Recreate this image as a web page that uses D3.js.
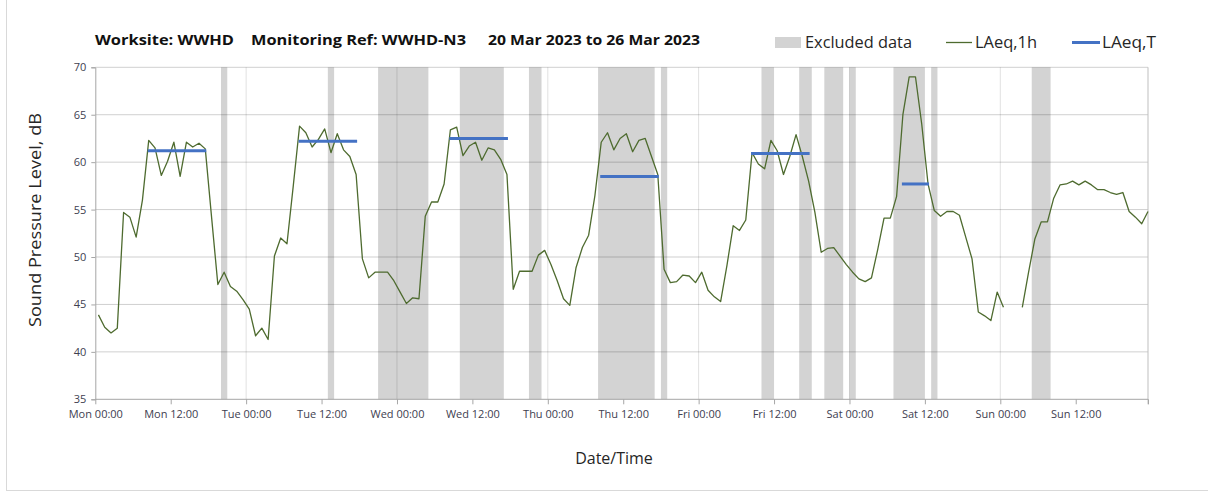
<!DOCTYPE html>
<html>
<head>
<meta charset="utf-8">
<script src="https://cdn.jsdelivr.net/npm/d3@7"></script>
<style>
  html, body { margin: 0; padding: 0; background: #fff; }
  svg { display: block; }
</style>
</head>
<body>
<div id="chart"></div>
<script>
// ---------- DATA ----------
// Hourly LAeq,1h values, Mon 20 Mar 00:00 .. Sun 26 Mar 23:00 (null = no data)
const levels = [
  43.9, 42.6, 42.0, 42.5, 54.7, 54.2, 52.1, 56.0, 62.3, 61.5, 58.6, 60.1,
  62.1, 58.5, 62.1, 61.6, 62.0, 61.4, 54.2, 47.1, 48.4, 46.9, 46.4, 45.5,
  44.5, 41.7, 42.5, 41.3, 50.1, 52.0, 51.4, 57.5, 63.8, 63.1, 61.6, 62.4,
  63.5, 61.0, 63.0, 61.3, 60.6, 58.7, 49.8, 47.8, 48.4, 48.4, 48.4, 47.5,
  46.3, 45.1, 45.7, 45.6, 54.3, 55.8, 55.8, 57.7, 63.4, 63.7, 60.7, 61.7,
  62.1, 60.2, 61.5, 61.3, 60.3, 58.7, 46.6, 48.5, 48.5, 48.5, 50.2, 50.7,
  49.2, 47.5, 45.6, 44.9, 48.9, 51.0, 52.3, 56.5, 62.1, 63.1, 61.3, 62.5,
  63.0, 61.1, 62.3, 62.5, 60.6, 58.7, 48.7, 47.3, 47.4, 48.1, 48.0, 47.3,
  48.4, 46.5, 45.8, 45.3, 49.1, 53.3, 52.8, 53.9, 61.0, 59.8, 59.3, 62.3,
  61.2, 58.7, 60.6, 62.9, 60.6, 58.0, 54.7, 50.5, 50.9, 51.0, 50.1, 49.2,
  48.4, 47.7, 47.4, 47.8, 50.8, 54.1, 54.1, 56.4, 65.0, 69.0, 69.0, 64.0,
  57.7, 54.9, 54.3, 54.8, 54.8, 54.4, 52.1, 49.8, 44.2, 43.8, 43.3, 46.3,
  44.7, null, null, 44.7, 48.4, 51.9, 53.7, 53.7, 56.2, 57.6, 57.7, 58.0,
  57.6, 58.0, 57.6, 57.1, 57.1, 56.8, 56.6, 56.8, 54.8, 54.2, 53.5, 54.8
];

// LAeq,T periods (hour index of first and last hourly value) and level
const periodStart = [8, 32, 56, 80, 104, 128];
const periodEnd   = [17, 41, 65, 89, 113, 132];
const periodLevel = [61.2, 62.2, 62.5, 58.5, 60.9, 57.7];

// Excluded data periods, hours from Mon 00:00 [start, end)
const excludedStart = [20, 37, 45, 58, 69, 80, 90, 106, 112, 116, 120, 127, 133, 149];
const excludedEnd   = [21, 38, 53, 65, 71, 89, 91, 108, 114, 119, 121, 132, 134, 152];

// Axis ticks
const xTickHours  = [0, 12, 24, 36, 48, 60, 72, 84, 96, 108, 120, 132, 144, 156];
const xTickLabels = ["Mon 00:00", "Mon 12:00", "Tue 00:00", "Tue 12:00", "Wed 00:00", "Wed 12:00",
                     "Thu 00:00", "Thu 12:00", "Fri 00:00", "Fri 12:00", "Sat 00:00", "Sat 12:00",
                     "Sun 00:00", "Sun 12:00"];
const yTicks = [35, 40, 45, 50, 55, 60, 65, 70];

const titleParts = ["Worksite: WWHD", "Monitoring Ref: WWHD-N3", "20 Mar 2023 to 26 Mar 2023"];
const legendLabels = ["Excluded data", "LAeq,1h", "LAeq,T"];

// ---------- LAYOUT ----------
const W = 1208, H = 493;
const L = 95.3, R = 1148, T = 67.3, B = 399.3;
const FONT = "'Open Sans', 'Noto Sans', sans-serif";

const svg = d3.select("#chart").append("svg")
  .attr("width", W).attr("height", H);

svg.append("rect").attr("x", 0).attr("y", 0).attr("width", W).attr("height", H).attr("fill", "#fff");
// outer chart frame
svg.append("rect").attr("x", 6.5).attr("y", -2).attr("width", W + 10).attr("height", 492.5)
  .attr("fill", "none").attr("stroke", "#d9d9d9").attr("stroke-width", 1);

const x = d3.scaleLinear().domain([0, 167.5]).range([L, R]);
const y = d3.scaleLinear().domain([35, 70]).range([B, T]);

// Excluded bands
const bands = excludedStart.map((s, i) => ({ s, e: excludedEnd[i] }));
svg.append("g").selectAll("rect").data(bands).join("rect")
  .attr("x", d => x(d.s)).attr("width", d => x(d.e) - x(d.s))
  .attr("y", T).attr("height", B - T)
  .attr("fill", "#d3d3d3");

// Horizontal gridlines
svg.append("g").selectAll("line").data(yTicks.filter(v => v > 35)).join("line")
  .attr("x1", L).attr("x2", R)
  .attr("y1", d => y(d)).attr("y2", d => y(d))
  .attr("stroke", "#000").attr("stroke-opacity", 0.19).attr("stroke-width", 1);

// Vertical day gridlines
svg.append("g").selectAll("line").data(xTickHours.filter(h => h % 24 === 0 && h > 0)).join("line")
  .attr("x1", d => x(d)).attr("x2", d => x(d))
  .attr("y1", T).attr("y2", B)
  .attr("stroke", "#000").attr("stroke-opacity", 0.12).attr("stroke-width", 1);

// Right border
svg.append("line").attr("x1", R).attr("x2", R).attr("y1", T).attr("y2", B + 5)
  .attr("stroke", "#bfbfbf").attr("stroke-width", 1);

// Y axis
const yAxis = d3.axisLeft(y).tickValues(yTicks).tickSize(4).tickPadding(5).tickFormat(d3.format("d"));
const gy = svg.append("g").attr("transform", `translate(${L},0)`).call(yAxis);
gy.select(".domain").attr("stroke", "#a6a6a6");
gy.selectAll(".tick line").attr("stroke", "#a6a6a6");
gy.selectAll(".tick text").attr("font-family", FONT).attr("font-size", 11).attr("fill", "#404050");

// X axis
const xAxis = d3.axisBottom(x).tickValues(xTickHours.concat([167.5])).tickSize(5).tickPadding(6)
  .tickFormat((d, i) => i < xTickLabels.length ? xTickLabels[i] : "");
const gx = svg.append("g").attr("transform", `translate(0,${B})`).call(xAxis);
gx.select(".domain").attr("stroke", "#a6a6a6").attr("d", `M${L},0H${R}`);
gx.selectAll(".tick line").attr("stroke", "#a6a6a6");
gx.selectAll(".tick text").attr("font-family", FONT).attr("font-size", 11).attr("fill", "#404050");

// LAeq,1h line
const pts = levels.map((v, i) => ({ t: i + 0.5, v }));
const line = d3.line().defined(d => d.v !== null).x(d => x(d.t)).y(d => y(d.v));
svg.append("path").datum(pts).attr("d", line)
  .attr("fill", "none").attr("stroke", "#4e6b2f").attr("stroke-width", 1.3)
  .attr("stroke-linejoin", "round");

// LAeq,T lines
const periods = periodStart.map((s, i) => ({ s, e: periodEnd[i], v: periodLevel[i] }));
svg.append("g").selectAll("line").data(periods).join("line")
  .attr("x1", d => x(d.s + 0.5) - 1).attr("x2", d => x(d.e + 0.5) + 1)
  .attr("y1", d => y(d.v)).attr("y2", d => y(d.v))
  .attr("stroke", "#4472c4").attr("stroke-width", 3);

// Title
const titleX = [95, 251, 488];
const titleW = [139, 215, 212];
svg.append("g").selectAll("text").data(titleParts).join("text")
  .attr("x", (d, i) => titleX[i]).attr("y", 45)
  .attr("textLength", (d, i) => titleW[i]).attr("lengthAdjust", "spacingAndGlyphs")
  .attr("font-family", FONT).attr("font-weight", "bold").attr("font-size", 15)
  .attr("fill", "#111").text(d => d);

// Legend
const lg = svg.append("g").attr("font-family", FONT).attr("font-size", 16).attr("fill", "#262626");
lg.append("rect").attr("x", 775).attr("y", 37).attr("width", 26).attr("height", 11).attr("fill", "#d3d3d3");
lg.append("text").attr("x", 805).attr("y", 48).attr("textLength", 107).attr("lengthAdjust", "spacingAndGlyphs").text(legendLabels[0]);
lg.append("line").attr("x1", 946).attr("x2", 972).attr("y1", 42.5).attr("y2", 42.5)
  .attr("stroke", "#4e6b2f").attr("stroke-width", 1.3);
lg.append("text").attr("x", 975).attr("y", 48).attr("textLength", 62).attr("lengthAdjust", "spacingAndGlyphs").text(legendLabels[1]);
lg.append("line").attr("x1", 1072).attr("x2", 1100).attr("y1", 42.5).attr("y2", 42.5)
  .attr("stroke", "#4472c4").attr("stroke-width", 3);
lg.append("text").attr("x", 1102).attr("y", 48).attr("textLength", 54).attr("lengthAdjust", "spacingAndGlyphs").text(legendLabels[2]);

// Axis titles
svg.append("text").attr("transform", `translate(41,220) rotate(-90)`)
  .attr("text-anchor", "middle").attr("font-family", FONT).attr("font-size", 16)
  .attr("textLength", 214).attr("lengthAdjust", "spacingAndGlyphs")
  .attr("fill", "#262626").text("Sound Pressure Level, dB");
svg.append("text").attr("x", 614).attr("y", 464)
  .attr("text-anchor", "middle").attr("font-family", FONT).attr("font-size", 16)
  .attr("fill", "#262626").text("Date/Time");
</script>
</body>
</html>
